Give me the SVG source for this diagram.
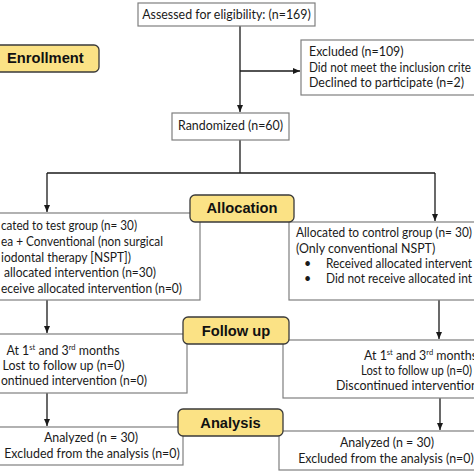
<svg xmlns="http://www.w3.org/2000/svg" width="474" height="474" viewBox="0 0 474 474">
<defs>
<marker id="ah" markerWidth="8" markerHeight="8" refX="7" refY="4" orient="auto" markerUnits="userSpaceOnUse">
<path d="M0,1 L7,4 L0,7 Z" fill="#1a1a1a"/>
</marker>
<style>
.box{fill:#fff;stroke:#7f7f7f;stroke-width:1.2}
.lab{fill:#fbe285;stroke:#3a3a3a;stroke-width:1.3}
.lt{font-family:"Liberation Sans",Arial,sans-serif;font-weight:bold;font-size:14.7px;fill:#111}
.t{font-family:Lato,"Liberation Sans",sans-serif;font-size:12.4px;fill:#1a1a1a}
.c{text-anchor:middle}
.e{text-anchor:end}
.con{fill:none;stroke:#1a1a1a;stroke-width:1.3}
.sup{font-size:7.5px}
</style>
</defs>
<rect width="474" height="474" fill="#fff"/>

<g id="connectors">
<line class="con" x1="240" y1="26" x2="240" y2="112" marker-end="url(#ah)"/>
<line class="con" x1="240" y1="71" x2="300" y2="71" marker-end="url(#ah)"/>
<line class="con" x1="240" y1="140" x2="240" y2="173"/>
<line class="con" x1="47" y1="173" x2="435" y2="173"/>
<line class="con" x1="47" y1="173" x2="47" y2="212" marker-end="url(#ah)"/>
<line class="con" x1="435" y1="173" x2="435" y2="221" marker-end="url(#ah)"/>
<line class="con" x1="47" y1="300" x2="47" y2="333" marker-end="url(#ah)"/>
<line class="con" x1="439" y1="300" x2="439" y2="339" marker-end="url(#ah)"/>
<line class="con" x1="47" y1="393" x2="47" y2="426" marker-end="url(#ah)"/>
<line class="con" x1="440" y1="398" x2="440" y2="430" marker-end="url(#ah)"/>
</g>

<g id="assessed">
<rect class="box" x="138" y="3" width="177" height="23"/>
<text class="t c" x="226.5" y="19">Assessed for eligibility: (n=169)</text>
</g>

<g id="excluded">
<rect class="box" x="301" y="40" width="180" height="55"/>
<text class="t" x="309" y="56">Excluded (n=109)</text>
<text class="t" x="309" y="72" textLength="162" lengthAdjust="spacingAndGlyphs">Did not meet the inclusion crite</text>
<text class="t" x="309" y="87">Declined to participate (n=2)</text>
</g>

<g id="randomized">
<rect class="box" x="172" y="113" width="117" height="27"/>
<text class="t c" x="230.5" y="130">Randomized (n=60)</text>
</g>

<g id="test-group">
<rect class="box" x="-10" y="213" width="210" height="87"/>
<text class="t" x="1" y="230" textLength="136" lengthAdjust="spacingAndGlyphs">cated to test group (n= 30)</text>
<text class="t" x="1" y="246" textLength="162" lengthAdjust="spacingAndGlyphs">ea + Conventional (non surgical</text>
<text class="t" x="1" y="261.5" textLength="130" lengthAdjust="spacingAndGlyphs">iodontal therapy [NSPT])</text>
<text class="t" x="4" y="277" textLength="152" lengthAdjust="spacingAndGlyphs">allocated intervention (n=30)</text>
<text class="t" x="1" y="293" textLength="181" lengthAdjust="spacingAndGlyphs">eceive allocated intervention (n=0)</text>
</g>

<g id="control-group">
<rect class="box" x="289" y="222" width="195" height="78"/>
<text class="t" x="296" y="237" textLength="176" lengthAdjust="spacingAndGlyphs">Allocated to control group (n= 30)</text>
<text class="t" x="296" y="253">(Only conventional NSPT)</text>
<text class="t" x="304" y="268">•</text>
<text class="t" x="326" y="268" textLength="146" lengthAdjust="spacingAndGlyphs">Received allocated intervent</text>
<text class="t" x="304" y="283">•</text>
<text class="t" x="326" y="283" textLength="146" lengthAdjust="spacingAndGlyphs">Did not receive allocated int</text>
</g>

<g id="followup-left">
<rect class="box" x="-10" y="334" width="197" height="59"/>
<text class="t c" x="63" y="355">At 1<tspan class="sup" dy="-5">st</tspan><tspan dy="5"> and 3</tspan><tspan class="sup" dy="-5">rd</tspan><tspan dy="5"> months</tspan></text>
<text class="t c" x="63.5" y="370">Lost to follow up (n=0)</text>
<text class="t" x="1" y="385" textLength="146" lengthAdjust="spacingAndGlyphs">ontinued intervention (n=0)</text>
</g>

<g id="followup-right">
<rect class="box" x="283" y="340" width="200" height="58"/>
<text class="t" x="364" y="360">At 1<tspan class="sup" dy="-5">st</tspan><tspan dy="5"> and 3</tspan><tspan class="sup" dy="-5">rd</tspan><tspan dy="5"> months</tspan></text>
<text class="t" x="361" y="375" textLength="111" lengthAdjust="spacingAndGlyphs">Lost to follow up (n=0)</text>
<text class="t" x="336" y="390">Discontinued intervention</text>
</g>

<g id="analysis-left">
<rect class="box" x="-10" y="427" width="193" height="38"/>
<text class="t c" x="91" y="442">Analyzed (n = 30)</text>
<text class="t c" x="92" y="458">Excluded from the analysis (n=0)</text>
</g>

<g id="analysis-right">
<rect class="box" x="279" y="431" width="205" height="39"/>
<text class="t c" x="387" y="447">Analyzed (n = 30)</text>
<text class="t c" x="386" y="463">Excluded from the analysis (n=0)</text>
</g>

<g id="label-enrollment">
<rect class="lab" x="-10" y="45" width="109" height="27" rx="5"/>
<text class="lt" x="7" y="63">Enrollment</text>
</g>
<g id="label-allocation">
<rect class="lab" x="190" y="195" width="104" height="27" rx="5"/>
<text class="lt c" x="242" y="213">Allocation</text>
</g>
<g id="label-followup">
<rect class="lab" x="183" y="317" width="106" height="27" rx="5"/>
<text class="lt c" x="236" y="336">Follow up</text>
</g>
<g id="label-analysis">
<rect class="lab" x="178" y="409" width="105" height="27" rx="5"/>
<text class="lt c" x="230.5" y="428">Analysis</text>
</g>
</svg>
